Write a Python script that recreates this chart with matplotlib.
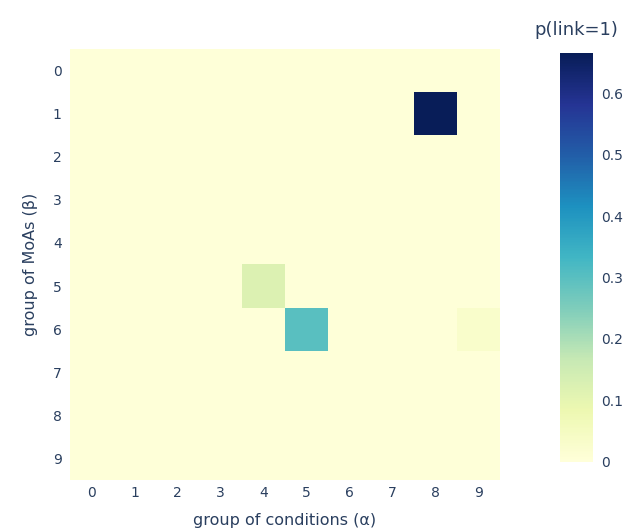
import numpy as np
import matplotlib.pyplot as plt
from matplotlib.ticker import FuncFormatter

groups_alpha = list(range(10))
groups_beta = list(range(10))

# p(link=1) for (beta row, alpha column); everything else ~0
background = 0.003
links = {(1, 8): 0.665, (5, 4): 0.12, (6, 5): 0.30, (6, 9): 0.03}

p = np.full((len(groups_beta), len(groups_alpha)), background)
for (b, a), v in links.items():
    p[b, a] = v

txt = '#2a3f5f'
plt.rcParams['font.family'] = ['DejaVu Sans']

fig = plt.figure(figsize=(6.23, 5.29), dpi=100)
ax = fig.add_axes([0.1124, 0.0926, 0.690, 0.815])
cax = fig.add_axes([0.899, 0.1267, 0.053, 0.773])

mesh = ax.pcolormesh(np.arange(11) - 0.5, np.arange(11) - 0.5, p,
                     cmap='YlGnBu', vmin=0, vmax=p.max(), shading='flat')
ax.set_xlim(-0.5, 9.5)
ax.set_ylim(9.5, -0.5)
ax.set_xticks(groups_alpha)
ax.set_yticks(groups_beta)
ax.tick_params(axis='x', length=0, labelsize=10, colors=txt, pad=4)
ax.tick_params(axis='y', length=0, labelsize=10, colors=txt, pad=6)
for s in ax.spines.values():
    s.set_visible(False)
ax.set_xlabel('group of conditions (α)', fontsize=11.5, color=txt, labelpad=10)
ax.set_ylabel('group of MoAs (β)', fontsize=11.5, color=txt, labelpad=11)

cb = fig.colorbar(mesh, cax=cax)
cb.outline.set_visible(False)
cb.set_ticks([0, 0.1, 0.2, 0.3, 0.4, 0.5, 0.6])
cb.ax.yaxis.set_major_formatter(FuncFormatter(lambda v, _: '0' if v == 0 else f'{v:.1f}'))
cb.ax.tick_params(length=0, labelsize=10, colors=txt, pad=6)
fig.text(0.925, 0.943, 'p(link=1)', ha='center', va='center', fontsize=13, color=txt)

fig.savefig('out.png', dpi=100)
